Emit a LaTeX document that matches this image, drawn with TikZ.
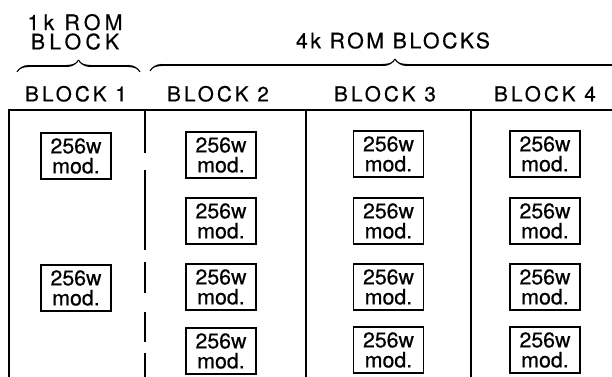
\documentclass[tikz,border=0pt]{standalone}
\usepackage{fontspec}
\setmainfont{TeX Gyre Heros}[FakeBold=0.5]
\newfontfamily\hdfont[LetterSpace=15,FakeBold=0.5]{TeX Gyre Heros}
\newfontfamily\grfont[LetterSpace=12,FakeBold=0.5]{TeX Gyre Heros}
\newfontfamily\grwidefont[LetterSpace=20,FakeBold=0.5]{TeX Gyre Heros}
\usepackage{tikz}
\usetikzlibrary{decorations.pathreplacing,calligraphy}

\tikzset{
	modbox/.style={draw, line width=1.3pt, minimum width=52.5pt, minimum height=35pt, inner sep=0pt, align=center, font=\fontsize{16}{15}\selectfont},
	heading/.style={anchor=south, inner sep=0pt, font=\hdfont\fontsize{15.5}{15}\selectfont},
	grouplabel/.style={anchor=south, inner sep=0pt, align=center, font=\grfont\fontsize{16}{14.5}\selectfont}
}

\begin{document}
\begin{tikzpicture}[x=0.75pt,y=-0.75pt]
					\useasboundingbox (0,0) rectangle (612,377);
					% group labels and braces
					\node[grouplabel, font=\grwidefont\fontsize{16}{14.5}\selectfont] (onek) at (75,50) {1k ROM\\BLOCK};
					\node[grouplabel] (fourk) at (393,49) {4k ROM BLOCKS};
					\draw [decorate, line width=1.6pt,
					decoration = {calligraphic brace,
						amplitude=9pt,
						aspect=0.5}] (17,72) --  (140,72);
					\draw [decorate, line width=1.6pt,
					decoration = {calligraphic brace,
						amplitude=9pt,
						aspect=0.5}] (150,71) --  (640,71);
					% block headings
					\node[heading] (h1) at (76,102) {BLOCK 1};
					\node[heading] (h2) at (218,102) {BLOCK 2};
					\node[heading] (h3) at (385,102) {BLOCK 3};
					\node[heading] (h4) at (545,102) {BLOCK 4};
					% frame
					\draw[line width=1.5pt] (9,377) -- (9,110) -- (612,110);
					\draw[line width=1.3pt] (306,110) -- (306,377);
					\draw[line width=1.3pt] (471,110) -- (471,377);
					\draw[line width=1.5pt] (145,110) -- (145,153);
					\draw[line width=1.5pt] (145,170) -- (145,250);
					\draw[line width=1.5pt] (145,262) -- (145,293);
					\draw[line width=1.5pt] (145,312) -- (145,342);
					\draw[line width=1.5pt] (145,353) -- (145,377);
					% modules
					\node[modbox] (m11) at (76,156) {256w\\mod.};
					\node[modbox] (m13) at (76,288) {256w\\mod.};
					\node[modbox] (m21) at (221,155) {256w\\mod.};
					\node[modbox] (m22) at (221,221) {256w\\mod.};
					\node[modbox] (m23) at (221,287) {256w\\mod.};
					\node[modbox] (m24) at (221,351) {256w\\mod.};
					\node[modbox] (m31) at (388.5,154) {256w\\mod.};
					\node[modbox] (m32) at (388.5,221) {256w\\mod.};
					\node[modbox] (m33) at (388.5,287) {256w\\mod.};
					\node[modbox] (m34) at (388.5,350) {256w\\mod.};
					\node[modbox] (m41) at (545,154) {256w\\mod.};
					\node[modbox] (m42) at (545,221) {256w\\mod.};
					\node[modbox] (m43) at (545,287) {256w\\mod.};
					\node[modbox] (m44) at (545,350) {256w\\mod.};
				\end{tikzpicture}
\end{document}
